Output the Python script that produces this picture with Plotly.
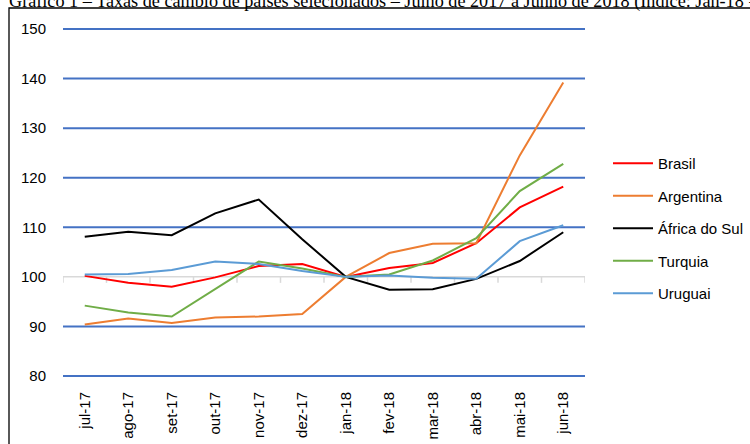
import plotly.graph_objects as go

categories = ["jul-17", "ago-17", "set-17", "out-17", "nov-17", "dez-17",
              "jan-18", "fev-18", "mar-18", "abr-18", "mai-18", "jun-18"]

brasil = [100.2, 98.8, 98.0, 99.9, 102.2, 102.6, 100.0, 101.8, 102.8, 106.8, 114.0, 118.2]
argentina = [90.4, 91.6, 90.7, 91.8, 92.0, 92.5, 100.0, 104.8, 106.7, 106.8, 124.5, 139.2]
africa_do_sul = [108.1, 109.1, 108.4, 112.8, 115.6, 107.6, 100.0, 97.4, 97.5, 99.6, 103.2, 109.0]
turquia = [94.2, 92.8, 92.0, 97.5, 103.1, 101.7, 100.0, 100.5, 103.3, 107.8, 117.3, 122.8]
uruguai = [100.5, 100.6, 101.4, 103.1, 102.6, 101.2, 100.0, 100.3, 99.8, 99.6, 107.2, 110.4]

series_names = ["Brasil", "Argentina", "África do Sul", "Turquia", "Uruguai"]
series_values = [brasil, argentina, africa_do_sul, turquia, uruguai]
series_colors = ["#FF0000", "#ED7D31", "#000000", "#70AD47", "#5B9BD5"]

y_ticks = [80, 90, 100, 110, 120, 130, 140, 150]
title_text = ("Gráfico 1 – Taxas de câmbio de países selecionados – Julho de 2017 a "
              "Junho de 2018 (Índice: Jan-18 = 100)")

W, H = 750, 444
# y range padded by 1 unit each side so the 80/150 gridlines are not clipped
Y0, Y1 = 79, 151
PX_PER_UNIT = 4.957
ML, MR = 63, 165
MT = int(round(29 - PX_PER_UNIT))
MB = int(round(H - 376 - PX_PER_UNIT))
PW, PH = W - ML - MR, H - MT - MB

fig = go.Figure()
for i, (name, vals, col) in enumerate(zip(series_names, series_values, series_colors)):
    fig.add_trace(go.Scatter(
        x=categories, y=vals, name=name, mode="lines",
        line=dict(color=col, width=2), legendgroup=f"g{i}",
    ))

shapes = []
x_lo = (63 - ML) / PW
x_hi = (585 - ML) / PW
for v in y_ticks:
    if v == 100:
        continue
    shapes.append(dict(type="line", xref="paper", yref="y", x0=x_lo, x1=x_hi, y0=v, y1=v,
                       line=dict(color="#4472C4", width=2), layer="below"))
shapes.append(dict(type="line", xref="paper", yref="y", x0=x_lo, x1=x_hi, y0=100, y1=100,
                   line=dict(color="#D9D9D9", width=1.5), layer="below"))
for k in range(len(categories) + 1):
    shapes.append(dict(type="line", xref="x", yref="y", ysizemode="pixel", yanchor=100,
                       x0=k - 0.5, x1=k - 0.5, y0=0, y1=-6,
                       line=dict(color="#D9D9D9", width=1.5), layer="below"))
shapes.append(dict(type="rect", xref="paper", yref="paper",
                   x0=(9 - ML) / PW, x1=(W + 20 - ML) / PW,
                   y0=-(H + 20 - MT - PH) / PH, y1=1 + (MT - 8) / PH,
                   line=dict(color="#000000", width=1.3), fillcolor="rgba(0,0,0,0)"))

fig.update_layout(
    width=W, height=H,
    margin=dict(l=ML, r=MR, t=MT, b=MB, pad=0, autoexpand=False),
    paper_bgcolor="white", plot_bgcolor="white",
    font=dict(family="Liberation Sans, Arial, sans-serif", color="#000000", size=15),
    shapes=shapes,
    showlegend=True,
    legend=dict(x=(608 - ML) / PW, y=1 - (147 - MT) / PH, xanchor="left", yanchor="top",
                font=dict(size=15), tracegroupgap=10, itemwidth=40,
                bgcolor="rgba(0,0,0,0)"),
    xaxis=dict(type="category", range=[-0.5, len(categories) - 0.5],
               showgrid=False, zeroline=False, showline=False, ticks="", automargin=False,
               tickangle=-90, tickfont=dict(size=15), ticklabelstandoff=7),
    yaxis=dict(range=[Y0, Y1], tickvals=y_ticks, showgrid=False, zeroline=False,
               showline=False, ticks="", automargin=False,
               tickfont=dict(size=15), ticklabelstandoff=16),
    annotations=[dict(text=title_text, xref="paper", yref="paper",
                      x=(7 - ML) / PW, y=1 + (MT - 0.5) / PH, xanchor="left", yanchor="middle",
                      showarrow=False,
                      font=dict(family="Liberation Serif, Times New Roman, serif", size=18.2))],
)

fig.write_html(
    "out.html",
    config={"displayModeBar": False},
    post_script="document.body.style.margin='0';document.body.style.overflow='hidden';",
)
